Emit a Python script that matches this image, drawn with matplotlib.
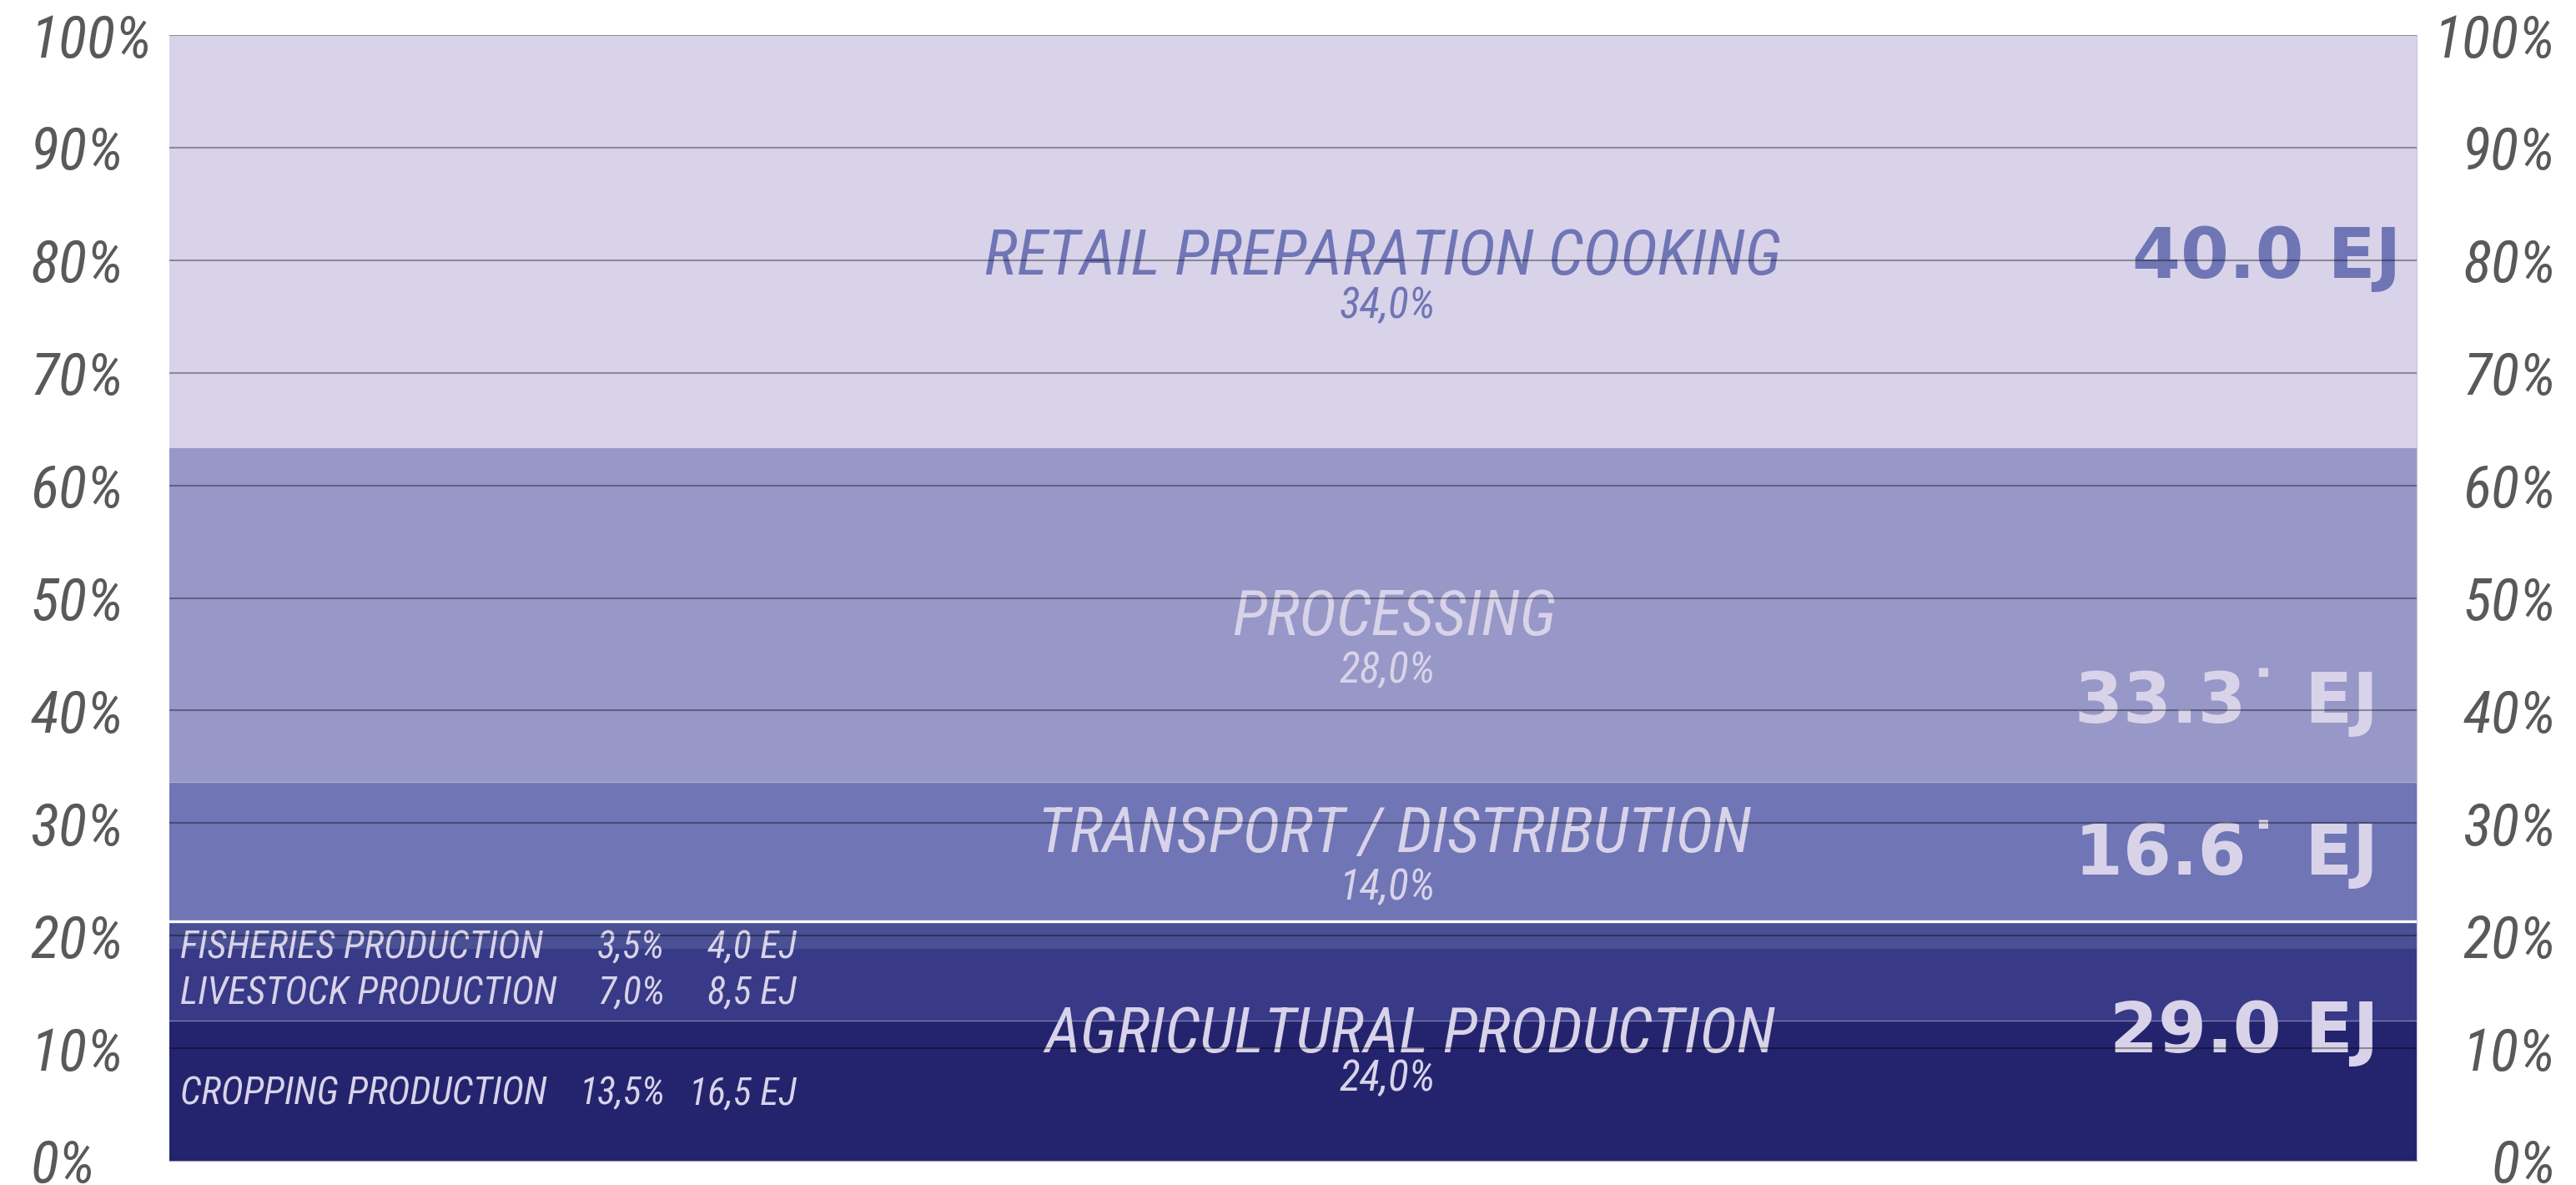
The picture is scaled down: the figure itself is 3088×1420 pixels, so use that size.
import matplotlib
matplotlib.use("Agg")
import matplotlib.pyplot as plt
from matplotlib import font_manager
import numpy as np

# ---------------- data ----------------
band_names = ["CROPPING PRODUCTION", "LIVESTOCK PRODUCTION", "FISHERIES PRODUCTION",
              "TRANSPORT / DISTRIBUTION", "PROCESSING", "RETAIL PREPARATION COOKING"]
band_heights = [12.45, 6.38, 2.45, 12.35, 29.67, 36.70]   # % of bar height
band_colors = ["#24246e", "#383a87", "#4a5094", "#6f75b5", "#9797c8", "#d8d3e9"]

stage_titles = ["AGRICULTURAL PRODUCTION", "TRANSPORT / DISTRIBUTION", "PROCESSING",
                "RETAIL PREPARATION COOKING"]
stage_shares = ["24,0%", "14,0%", "28,0%", "34,0%"]
stage_ej = ["29.0 EJ", "16.6\u02d9 EJ", "33.3\u02d9 EJ", "40.0 EJ"]

sub_names = ["CROPPING PRODUCTION", "LIVESTOCK PRODUCTION", "FISHERIES PRODUCTION"]
sub_shares = ["13,5%", "7,0%", "3,5%"]
sub_ej = ["16,5 EJ", "8,5 EJ", "4,0 EJ"]

y_ticks = [0, 10, 20, 30, 40, 50, 60, 70, 80, 90, 100]
y_tick_labels = ["0%", "10%", "20%", "30%", "40%", "50%", "60%", "70%", "80%", "90%", "100%"]

# ---------------- styling ----------------
available = {f.name for f in font_manager.fontManager.ttflist}
def pick(cands):
    for c in cands:
        if c in available:
            return c
    return "DejaVu Sans"
NARROW = pick(["Liberation Sans Narrow", "DejaVu Sans Condensed", "Roboto Condensed", "DejaVu Sans"])
HEAVY = "DejaVu Sans"

LIGHT = "#d8d3e9"
MID = "#6f75b5"
TICK = "#58595b"

W, H, DPI = 3088, 1420, 100
fig = plt.figure(figsize=(W / DPI, H / DPI), dpi=DPI)
ax = fig.add_axes([203 / W, 1 - 1391 / H, (2897 - 203) / W, (1391 - 42) / H])

# stacked bands
bottoms = np.concatenate([[0], np.cumsum(band_heights)[:-1]])
ax.bar([0] * len(band_heights), band_heights, bottom=bottoms, width=1.0,
       color=band_colors, edgecolor="none", zorder=1)
ax.set_xlim(-0.5, 0.5)
ax.set_ylim(0, 100)

tops = np.cumsum(band_heights)
# boundary lines between bands
ax.axhline(tops[0], color="#7b7bb4", lw=1.0, zorder=1.5)
ax.axhline(tops[2], color="white", lw=2.4, zorder=1.6)
ax.axhline(tops[3], color="#a9a9d6", lw=1.0, zorder=1.5)

# grid
ax.set_axisbelow(False)
ax.yaxis.grid(True, color="black", alpha=0.35, lw=1.5)
ax.xaxis.grid(False)
ax.set_xticks([])
ax.set_yticks(y_ticks)
ax.set_yticklabels(y_tick_labels)
ax.tick_params(axis="y", length=0, pad=120, labelsize=51, labelcolor=TICK,
               left=False, right=False, labelleft=True, labelright=True)
for lab in ax.get_yticklabels():
    lab.set_fontfamily(NARROW)
    lab.set_fontstyle("italic")
    lab.set_horizontalalignment("left")
for t in ax.yaxis.get_major_ticks():
    t.label2.set_fontfamily(NARROW)
    t.label2.set_fontstyle("italic")
    t.label2.set_horizontalalignment("right")
    t.label2.set_fontsize(51)
    t.label2.set_color(TICK)

for s in ["left", "top"]:
    ax.spines[s].set_visible(False)
ax.spines["bottom"].set_color("#a8a4d4")
ax.spines["bottom"].set_linewidth(1.0)
ax.spines["right"].set_color("#c8c4e2")
ax.spines["right"].set_linewidth(0.8)

# stage labels (title / share / EJ)
title_x = [0.052, 0.045, 0.045, 0.040]
title_y = [9.6, 27.4, 46.7, 78.7]
share_y = [6.2, 23.2, 42.5, 74.9]
ej_y = [9.65, 25.45, 38.9, 78.45]
ej_x = [0.483, 0.483, 0.483, 0.493]
title_colors = [LIGHT, LIGHT, LIGHT, MID]
for i in range(4):
    ax.text(title_x[i], title_y[i], stage_titles[i], ha="center", va="baseline",
            fontsize=55, fontfamily=NARROW, fontstyle="italic",
            color=title_colors[i], zorder=2)
    ax.text(0.042, share_y[i], stage_shares[i], ha="center", va="baseline",
            fontsize=37, fontfamily=NARROW, fontstyle="italic",
            color=title_colors[i], zorder=2)
    ax.text(ej_x[i], ej_y[i], stage_ej[i], ha="right", va="baseline",
            fontsize=60, fontfamily=HEAVY, fontweight="heavy",
            color=title_colors[i], zorder=2)

# sub-band labels of agricultural production
sub_y = [5.0, 13.9, 18.0]
for i in range(3):
    ax.text(-0.495, sub_y[i], sub_names[i], ha="left", va="baseline",
            fontsize=33, fontfamily=NARROW, fontstyle="italic", color=LIGHT, zorder=2)
    ax.text(-0.2795, sub_y[i], sub_shares[i], ha="right", va="baseline",
            fontsize=33, fontfamily=NARROW, fontstyle="italic", color=LIGHT, zorder=2)
    ax.text(-0.221, sub_y[i], sub_ej[i], ha="right", va="baseline",
            fontsize=33, fontfamily=NARROW, fontstyle="italic", color=LIGHT, zorder=2)

fig.savefig("out.png", dpi=DPI, facecolor="white")
